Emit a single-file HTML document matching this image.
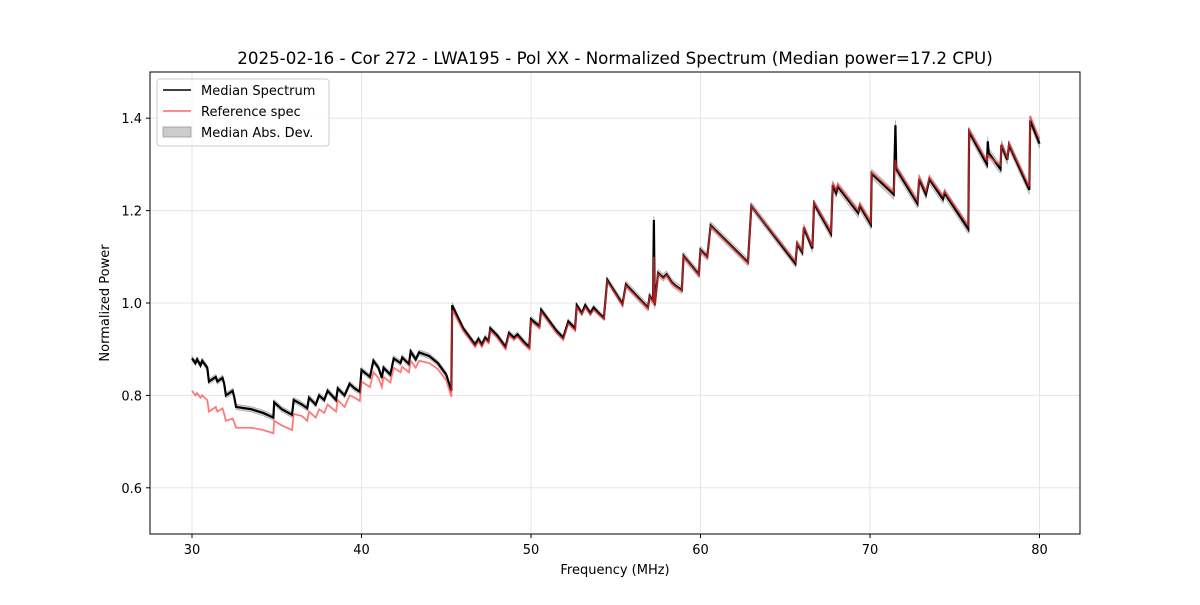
<!DOCTYPE html>
<html><head><meta charset="utf-8"><style>
body{margin:0;background:#fff;font-family:"Liberation Sans","DejaVu Sans",sans-serif}
svg text{font-family:"DejaVu Sans","Liberation Sans",sans-serif;fill:#000}
</style></head><body>
<svg id="c" width="1200" height="600" xmlns="http://www.w3.org/2000/svg">
<rect width="1200" height="600" fill="#fff"/>
<text x="615" y="64" font-size="16.7" text-anchor="middle">2025-02-16 - Cor 272 - LWA195 - Pol XX - Normalized Spectrum (Median power=17.2 CPU)</text>
<g id="grid"></g><g id="series"></g>
<rect x="150" y="72" width="930" height="462" fill="none" stroke="#000" stroke-width="1"/>
<g id="axes"></g>
<text x="615" y="574" font-size="13" text-anchor="middle">Frequency (MHz)</text>
<text transform="translate(109,303) rotate(-90)" font-size="13" text-anchor="middle">Normalized Power</text>
<g>
<rect x="157" y="79" width="172" height="67" rx="3" fill="#fff" fill-opacity="0.8" stroke="#ccc"/>
<line x1="163" y1="90" x2="191" y2="90" stroke="#000" stroke-width="1.5"/>
<text x="201" y="95" font-size="13">Median Spectrum</text>
<line x1="163" y1="111" x2="191" y2="111" stroke="#ff6666" stroke-width="1.5"/>
<text x="201" y="116" font-size="13">Reference spec</text>
<rect x="163" y="127" width="28" height="10" fill="#000" fill-opacity="0.2" stroke="#999" stroke-width="0.8"/>
<text x="201" y="137" font-size="13">Median Abs. Dev.</text>
</g>
</svg>
<script>
const freqs=[30.0,30.2,30.3,30.5,30.6,30.9,31.0,31.4,31.5,31.8,31.9,32.0,32.4,32.5,32.6,33.5,34.2,34.8,34.85,35.3,35.9,36.0,36.5,36.8,36.9,37.3,37.5,37.8,38.0,38.5,38.6,39.0,39.3,39.6,39.9,40.0,40.5,40.7,41.0,41.2,41.3,41.7,41.9,42.3,42.4,42.8,42.9,43.2,43.4,44.0,44.5,45.0,45.3,45.35,46.0,46.5,46.7,46.9,47.1,47.3,47.5,47.6,48.0,48.5,48.7,49.0,49.2,49.6,49.9,50.0,50.5,50.6,51.5,51.9,52.2,52.6,52.7,53.0,53.2,53.5,53.7,54.0,54.3,54.5,55.4,55.6,56.9,57.0,57.2,57.25,57.3,57.5,57.8,58.0,58.3,58.5,58.9,59.0,59.9,60.0,60.4,60.6,62.8,63.0,65.6,65.7,66.0,66.1,66.6,66.7,67.7,67.8,68.0,68.1,69.3,69.4,70.05,70.1,71.4,71.5,71.55,72.8,72.9,73.3,73.5,74.3,74.4,75.8,75.85,76.9,76.95,77.0,77.7,77.75,78.1,78.2,79.4,79.45,80.0];
const median=[.880,.870,.878,.865,.875,.860,.830,.840,.830,.838,.825,.800,.810,.795,.775,.770,.762,.752,.785,.770,.758,.790,.780,.772,.795,.780,.800,.790,.810,.790,.815,.800,.825,.815,.808,.855,.840,.875,.860,.838,.860,.845,.880,.870,.882,.868,.895,.878,.893,.885,.870,.845,.810,.995,.945,.920,.910,.922,.910,.925,.918,.945,.930,.905,.935,.925,.932,.915,.905,.965,.950,.985,.940,.925,.960,.945,.995,.978,.995,.978,.990,.978,.968,1.050,.998,1.040,.990,1.015,1.005,1.180,.995,1.065,1.055,1.062,1.045,1.038,1.028,1.102,1.062,1.115,1.100,1.168,1.088,1.210,1.085,1.128,1.110,1.163,1.118,1.215,1.150,1.255,1.238,1.252,1.195,1.210,1.170,1.280,1.235,1.385,1.290,1.215,1.268,1.235,1.268,1.225,1.238,1.160,1.370,1.300,1.350,1.325,1.290,1.342,1.310,1.342,1.245,1.395,1.345];
const reference=[.810,.800,.805,.795,.800,.790,.765,.775,.765,.772,.760,.745,.750,.740,.730,.730,.725,.718,.745,.735,.725,.760,.755,.745,.765,.752,.770,.762,.780,.765,.790,.775,.800,.795,.788,.830,.818,.850,.838,.818,.840,.828,.860,.850,.862,.850,.875,.860,.875,.870,.857,.833,.797,.985,.940,.915,.905,.917,.905,.920,.913,.940,.925,.900,.930,.920,.927,.910,.900,.960,.945,.980,.935,.920,.955,.940,.990,.975,.990,.975,.985,.975,.965,1.047,.995,1.037,.988,1.013,1.003,1.100,.993,1.063,1.053,1.060,1.043,1.036,1.026,1.100,1.060,1.113,1.098,1.166,1.086,1.210,1.090,1.130,1.114,1.166,1.122,1.218,1.155,1.260,1.245,1.256,1.200,1.214,1.175,1.283,1.240,1.310,1.295,1.222,1.272,1.242,1.272,1.232,1.242,1.168,1.375,1.308,1.320,1.318,1.298,1.345,1.315,1.345,1.252,1.405,1.355];
const madWidth=[.006,.006,.008,.010];
const xTicks=[30,40,50,60,70,80];
const yTicks=[0.6,0.8,1.0,1.2,1.4];
const NS='http://www.w3.org/2000/svg';
const X=f=>192+(f-30)*16.95, Y=v=>534-(v-0.5)*462;
function mk(t,a,p){const e=document.createElementNS(NS,t);for(const k in a)e.setAttribute(k,a[k]);p.appendChild(e);return e;}
const grid=document.getElementById('grid'),axes=document.getElementById('axes'),ser=document.getElementById('series');
xTicks.forEach(t=>{const x=X(t);
 const g=mk('line',{x1:x,x2:x,y1:72,y2:534,stroke:'#e5e5e5'},grid);
 
 
 mk('line',{x1:x,x2:x,y1:534,y2:538,stroke:'#000'},axes);
 const l=mk('text',{x:x,y:554,'font-size':13,'text-anchor':'middle'},axes);l.textContent=t;
 
 });
yTicks.forEach(t=>{const y=Y(t);
 const g=mk('line',{x1:150,x2:1080,y1:y,y2:y,stroke:'#e5e5e5'},grid);
 
 
 mk('line',{x1:146,x2:150,y1:y,y2:y,stroke:'#000'},axes);
 const l=mk('text',{x:142,y:y+5,'font-size':13,'text-anchor':'end'},axes);l.textContent=t.toFixed(1);
 
 });
const mw=i=>madWidth[Math.min(3,Math.floor((freqs[i]-30)/12.5))];
let up=freqs.map((f,i)=>X(f)+','+Y(median[i]+mw(i))),dn=freqs.map((f,i)=>X(f)+','+Y(median[i]-mw(i))).reverse();
const band=mk('polygon',{points:up.concat(dn).join(' '),fill:'#000','fill-opacity':0.2,stroke:'#999','stroke-width':0.5},ser);


const ml=mk('polyline',{points:freqs.map((f,i)=>X(f)+','+Y(median[i])).join(' '),fill:'none',stroke:'#000','stroke-width':2.2},ser);


const rl=mk('polyline',{points:freqs.map((f,i)=>X(f)+','+Y(reference[i])).join(' '),fill:'none',stroke:'#ff3333','stroke-opacity':0.65,'stroke-width':1.8},ser);


</script>
</body></html>
